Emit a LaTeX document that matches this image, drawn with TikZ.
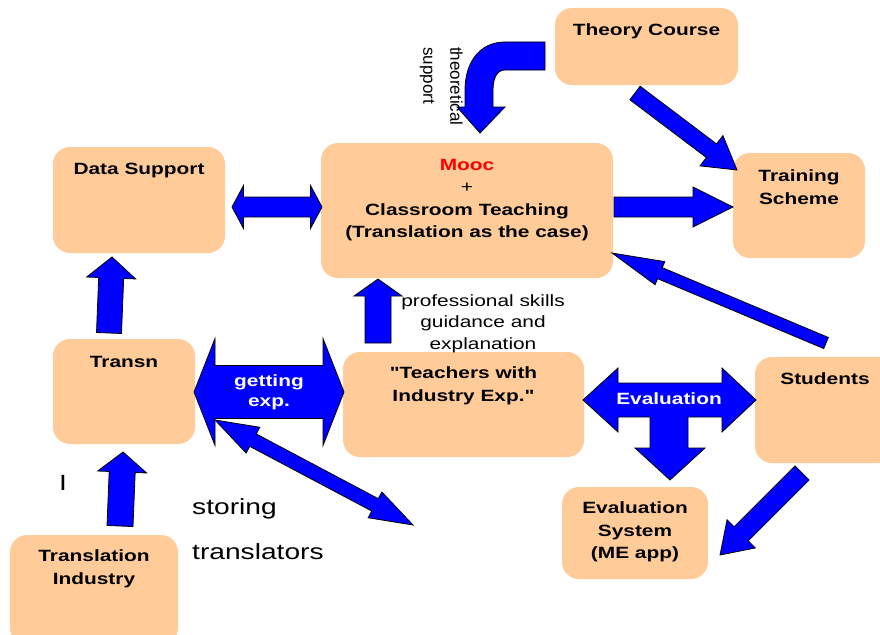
\documentclass[tikz,border=0pt]{standalone}
\usepackage{fontspec}
\setmainfont{Liberation Sans}
\newfontfamily\widefont[FakeStretch=1.28]{Liberation Sans}
\usetikzlibrary{calc,positioning}
\definecolor{peach}{RGB}{255,204,153}
\definecolor{arrowblue}{RGB}{0,0,255}

% block arrows: from, to, half shaft, half head, head length
\newcommand{\barrow}[5]{%
  \draw[blockarrow] let \p1=(#1), \p2=(#2), \n1={atan2(\y2-\y1,\x2-\x1)} in
    ($(\p1)+({\n1+90}:#3)$) -- ($(\p2)!#5!(\p1)+({\n1+90}:#3)$)
    -- ($(\p2)!#5!(\p1)+({\n1+90}:#4)$) -- (\p2)
    -- ($(\p2)!#5!(\p1)+({\n1-90}:#4)$) -- ($(\p2)!#5!(\p1)+({\n1-90}:#3)$)
    -- ($(\p1)+({\n1-90}:#3)$) -- cycle;}
\newcommand{\dbarrow}[5]{%
  \draw[blockarrow] let \p1=(#1), \p2=(#2), \n1={atan2(\y2-\y1,\x2-\x1)} in
    (\p1) -- ($(\p1)!#5!(\p2)+({\n1+90}:#4)$) -- ($(\p1)!#5!(\p2)+({\n1+90}:#3)$)
    -- ($(\p2)!#5!(\p1)+({\n1+90}:#3)$) -- ($(\p2)!#5!(\p1)+({\n1+90}:#4)$) -- (\p2)
    -- ($(\p2)!#5!(\p1)+({\n1-90}:#4)$) -- ($(\p2)!#5!(\p1)+({\n1-90}:#3)$)
    -- ($(\p1)!#5!(\p2)+({\n1-90}:#3)$) -- ($(\p1)!#5!(\p2)+({\n1-90}:#4)$) -- cycle;}

\begin{document}
\begin{tikzpicture}[x=1pt,y=-1pt,
  box/.style={fill=peach,rounded corners=17pt,inner sep=0pt},
  title/.style={inner sep=0pt,align=center,font=\widefont\bfseries\fontsize{16.3}{22.5}\selectfont},
  blockarrow/.style={fill=arrowblue,draw=black,line width=0.8pt},
  onarrow/.style={text=white,inner sep=0pt,align=center,font=\widefont\bfseries\fontsize{16.3}{20}\selectfont},
  note/.style={inner sep=0pt,font=\widefont\fontsize{22}{26}\selectfont}]

  \clip (0,0) rectangle (880,634);

  % boxes
  \node[box,minimum width=183pt,minimum height=77pt] (theory) at (646.5,46.5) {};
  \node[box,minimum width=172pt,minimum height=106pt] (data) at (139,200) {};
  \node[box,minimum width=292pt,minimum height=135pt] (mooc) at (467,210.5) {};
  \node[box,minimum width=132pt,minimum height=105pt] (train) at (799,205.5) {};
  \node[box,minimum width=142pt,minimum height=105pt] (transn) at (124,391.5) {};
  \node[box,minimum width=241pt,minimum height=105pt] (teach) at (463.5,404.5) {};
  \node[box,minimum width=140pt,minimum height=106pt] (stud) at (825,410) {};
  \node[box,minimum width=146pt,minimum height=92pt] (evsys) at (635,533) {};
  \node[box,minimum width=168pt,minimum height=110pt] (ind) at (94,590) {};

  % arrow ends
  \coordinate (data-r) at (232,207);
  \coordinate (mooc-l) at (322,207);
  \coordinate (mooc-r) at (614,207);
  \coordinate (train-l) at (733,207);
  \coordinate (theory-b) at (635,93);
  \coordinate (train-t) at (737,170);
  \coordinate (stud-t) at (826,343);
  \coordinate (mooc-br) at (612,253);
  \coordinate (teach-t) at (378,343);
  \coordinate (mooc-b) at (378,279);
  \coordinate (transn-t) at (109,333);
  \coordinate (data-b) at (112,257);
  \coordinate (ind-t) at (120,526);
  \coordinate (transn-b) at (123,452);
  \coordinate (transn-r) at (194,392);
  \coordinate (teach-l) at (344,392);
  \coordinate (transn-br) at (215,420);
  \coordinate (store) at (413,525);
  \coordinate (stud-b) at (802,473);
  \coordinate (evsys-r) at (720,555);

  \dbarrow{data-r}{mooc-l}{10pt}{21.5pt}{11.5pt}
  \barrow{mooc-r}{train-l}{10pt}{20pt}{40pt}
  \barrow{theory-b}{train-t}{8.5pt}{19pt}{32pt}
  \barrow{stud-t}{mooc-br}{6pt}{12.5pt}{52pt}
  \barrow{teach-t}{mooc-b}{13pt}{24pt}{17pt}
  \barrow{transn-t}{data-b}{12.5pt}{24.5pt}{21pt}
  \barrow{ind-t}{transn-b}{13pt}{24.5pt}{20pt}
  \dbarrow{transn-r}{teach-l}{26.5pt}{53.5pt}{21pt}
  \dbarrow{transn-br}{store}{7pt}{14.6pt}{43pt}
  \barrow{stud-b}{evsys-r}{10pt}{20pt}{30pt}

  % evaluation, three ways
  \draw[blockarrow] (583,400) -- (618,368) -- (618,383) -- (722,383) -- (722,368)
    -- (756,400) -- (722,432) -- (722,417) -- (688,417) -- (688,448) -- (705,448)
    -- (670,480) -- (635,448) -- (650,448) -- (650,417) -- (618,417) -- (618,432) -- cycle;

  % theoretical support, bent arrow
  \draw[blockarrow] (545,42) -- (505,42) .. controls (480,42) and (465,62) .. (465,90)
    -- (465,107) -- (457,107) -- (480,133) -- (505,107) -- (493,107) -- (493,90)
    .. controls (493,78) and (497,70) .. (505,70) -- (545,70) -- cycle;

  % texts
  \node[title,below=16pt of theory.north] (theory-txt) {Theory Course};
  \node[title,below=16pt of data.north] (data-txt) {Data Support};
  \node[title,below=16pt of mooc.north] (mooc-txt)
    {\textcolor{red}{Mooc}\\{\mdseries +}\\Classroom Teaching\\(Translation as the case)};
  \node[title,below=17pt of train.north] (train-txt) {Training\\Scheme};
  \node[title,below=17pt of transn.north] (transn-txt) {Transn};
  \node[title,below=15pt of teach.north] (teach-txt) {"Teachers with\\Industry Exp."};
  \node[title,below=16pt of stud.north] (stud-txt) {Students};
  \node[title,below=15pt of evsys.north] (evsys-txt) {Evaluation\\System\\(ME app)};
  \node[title,below=15pt of ind.north] (ind-txt) {Translation\\Industry};

  \node[onarrow] (getting) at (269,392) {getting\\exp.};
  \node[onarrow] (evaluation) at (669,399) {Evaluation};

  \node[inner sep=0pt,align=center,font=\widefont\fontsize{16.3}{21.5}\selectfont] (skills)
    at (483,323.5) {professional skills\\guidance and\\explanation};
  \node[rotate=-90,anchor=north west,align=left,inner sep=0pt,
    font=\fontsize{17}{27}\selectfont] (theo) at (463,47) {theoretical\\support};
  \node[note,anchor=base west] (storing) at (192,514) {storing};
  \node[note,anchor=base west] (translators) at (192,559) {translators};
  \node[note] (mark) at (63,483) {I};

\end{tikzpicture}
\end{document}
